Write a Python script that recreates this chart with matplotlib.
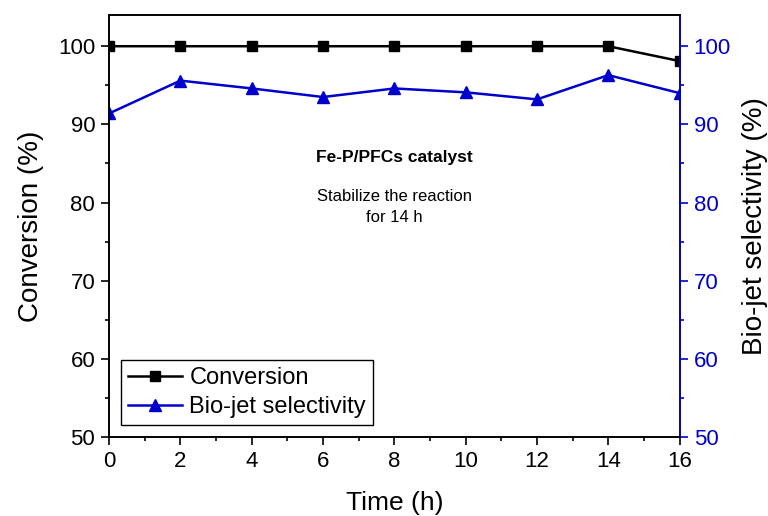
import matplotlib.pyplot as plt

plt.rcParams['font.family'] = ['Liberation Sans', 'DejaVu Sans']

# Stability test data
time_h = [0, 2, 4, 6, 8, 10, 12, 14, 16]
conversion = [100, 100, 100, 100, 100, 100, 100, 100, 98.1]
selectivity = [91.4, 95.6, 94.6, 93.5, 94.6, 94.1, 93.2, 96.3, 94.0]

blue = "#0000cc"

fig = plt.figure(figsize=(7.68, 5.16), dpi=100)
ax = fig.add_axes([0.142, 0.153, 0.743, 0.818])
ax2 = ax.twinx()

l1, = ax.plot(time_h, conversion, color="black", marker="s", markersize=7, lw=1.8, label="Conversion")
l2, = ax2.plot(time_h, selectivity, color=blue, marker="^", markersize=9, lw=1.8, label="Bio-jet selectivity")

ax.set_xlim(0, 16)
ax.set_ylim(50, 104)
ax2.set_ylim(50, 104)
ax.set_xticks(range(0, 17, 2))
ax.set_xticks(range(1, 16, 2), minor=True)
ax.set_yticks(range(50, 101, 10))
ax.set_yticks(range(55, 101, 10), minor=True)
ax2.set_yticks(range(50, 101, 10))
ax2.set_yticks(range(55, 101, 10), minor=True)

ax.tick_params(which="major", direction="out", length=6, width=1.2, labelsize=16, pad=4)
ax.tick_params(which="minor", direction="out", length=3, width=1.2)
ax2.tick_params(which="major", direction="out", length=6, width=1.2, labelsize=16,
                colors=blue, pad=4)
ax2.tick_params(which="minor", direction="out", length=3, width=1.2, colors=blue)
for sp in ax.spines.values():
    sp.set_linewidth(1.2)
for sp in ax2.spines.values():
    sp.set_linewidth(1.2)
ax2.spines["right"].set_color(blue)

ax.set_xlabel("Time (h)", fontsize=19, labelpad=14)
ax.set_ylabel("Conversion (%)", fontsize=20, labelpad=10)
ax2.set_ylabel("Bio-jet selectivity (%)", fontsize=20, labelpad=8)

ax.text(0.5, 0.663, "Fe-P/PFCs catalyst", transform=ax.transAxes, ha="center",
        va="center", fontsize=12.5, fontweight="bold")
ax.text(0.5, 0.545, "Stabilize the reaction\nfor 14 h", transform=ax.transAxes,
        ha="center", va="center", fontsize=12, linespacing=1.5)

leg = ax2.legend([l1, l2], ["Conversion", "Bio-jet selectivity"], loc="lower left",
                 fontsize=17, fancybox=False, edgecolor="black", framealpha=1,
                 handlelength=2.3, handletextpad=0.3, borderpad=0.3,
                 labelspacing=0.3, bbox_to_anchor=(0.0, 0.0))
leg.get_frame().set_linewidth(1.0)

fig.savefig("out.png", dpi=100)
